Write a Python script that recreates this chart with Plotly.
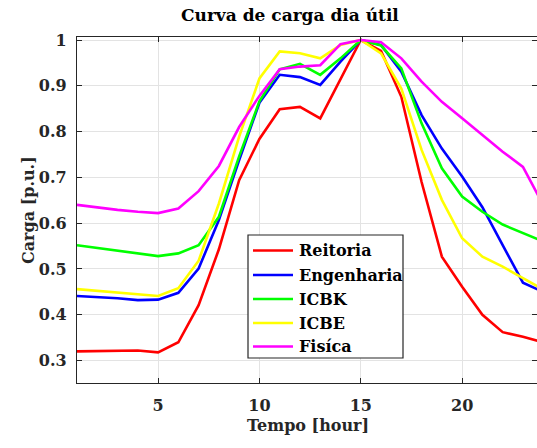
import plotly.graph_objects as go

# Hour of day
hours = list(range(1, 25))

# Normalised daily load curves [p.u.]
reitoria = [0.320, 0.321, 0.322, 0.322, 0.318, 0.340, 0.421, 0.543, 0.694, 0.784, 0.849, 0.854,
            0.829, 0.915, 1.000, 0.976, 0.876, 0.690, 0.527, 0.461, 0.400, 0.362, 0.352, 0.340]
engenharia = [0.441, 0.439, 0.436, 0.432, 0.433, 0.448, 0.501, 0.607, 0.738, 0.863, 0.924, 0.919,
              0.902, 0.953, 1.000, 0.989, 0.931, 0.836, 0.763, 0.702, 0.635, 0.552, 0.470, 0.450]
icbk = [0.552, 0.546, 0.540, 0.534, 0.528, 0.534, 0.552, 0.614, 0.746, 0.866, 0.936, 0.948,
        0.924, 0.960, 1.000, 0.988, 0.938, 0.818, 0.720, 0.658, 0.625, 0.597, 0.578, 0.560]
icbe = [0.456, 0.452, 0.448, 0.445, 0.441, 0.458, 0.518, 0.643, 0.789, 0.916, 0.975, 0.971,
        0.960, 0.989, 1.000, 0.971, 0.894, 0.760, 0.651, 0.567, 0.527, 0.505, 0.481, 0.455]
fisica = [0.640, 0.634, 0.629, 0.625, 0.622, 0.632, 0.670, 0.725, 0.810, 0.878, 0.936, 0.942,
          0.945, 0.991, 1.000, 0.995, 0.960, 0.909, 0.865, 0.829, 0.793, 0.756, 0.723, 0.640]

series_names = ["Reitoria", "Engenharia", "ICBK", "ICBE", "Fisíca"]
series_values = [reitoria, engenharia, icbk, icbe, fisica]
series_colors = ["#ff0000", "#0000ff", "#00ff00", "#ffff00", "#ff00ff"]

x_ticks = [5, 10, 15, 20]
y_ticks = [0.3, 0.4, 0.5, 0.6, 0.7, 0.8, 0.9, 1.0]
y_tick_text = ["0.3", "0.4", "0.5", "0.6", "0.7", "0.8", "0.9", "1"]

FONT = "DejaVu Serif"
FS = 16
W, H = 537, 448
L, R, T, B = 77, 0, 37, 65
PW, PH = W - L - R, H - T - B


def px_x(px):
    """Horizontal pixel position -> paper fraction."""
    return (px - L) / PW


def px_y(py):
    """Vertical pixel position (from top) -> paper fraction."""
    return (H - B - py) / PH


fig = go.Figure()
for name, vals, col in zip(series_names, series_values, series_colors):
    fig.add_trace(go.Scatter(x=hours, y=vals, mode="lines", name=name,
                             line=dict(color=col, width=2.6), showlegend=False))

axis_common = dict(
    showline=True, linecolor="#262626", linewidth=1.2, mirror="ticks",
    ticks="inside", ticklen=5, tickwidth=1, tickcolor="#262626",
    showgrid=True, gridcolor="#e3e3e3", gridwidth=1, zeroline=False,
    tickfont=dict(family=FONT, size=FS, color="#262626", weight="bold"),
)

fig.update_layout(
    width=W, height=H,
    margin=dict(l=L, r=R, t=T, b=B),
    paper_bgcolor="white", plot_bgcolor="white",
    xaxis=dict(range=[1, 1 + PW / 20.27], tickvals=x_ticks, ticklabelstandoff=8, **axis_common),
    yaxis=dict(range=[0.251, 1.0066], tickvals=y_ticks, ticktext=y_tick_text,
               ticklabelstandoff=6, **axis_common),
)

# Legend box with line samples and labels
lg_left, lg_top, lg_right, lg_bottom = 248, 235, 403, 358
fig.add_shape(type="rect", xref="paper", yref="paper",
              x0=px_x(lg_left), x1=px_x(lg_right), y0=px_y(lg_bottom), y1=px_y(lg_top),
              line=dict(color="#262626", width=1.2), fillcolor="white", layer="above")
row_y = [250.5, 275, 299, 323, 346.5]
for name, col, ry in zip(series_names, series_colors, row_y):
    fig.add_shape(type="line", xref="paper", yref="paper",
                  x0=px_x(253), x1=px_x(293), y0=px_y(ry), y1=px_y(ry),
                  line=dict(color=col, width=2.6), layer="above")
    fig.add_annotation(text=name, xref="paper", yref="paper",
                       x=px_x(297), y=px_y(ry), xanchor="left", yanchor="middle",
                       showarrow=False,
                       font=dict(family=FONT, size=FS, color="black", weight="bold"))

# Titles
fig.add_annotation(text="Curva de carga dia útil", xref="paper", yref="paper",
                   x=px_x(290), y=px_y(15), xanchor="center", yanchor="middle",
                   showarrow=False,
                   font=dict(family=FONT, size=17, color="black", weight="bold"))
fig.add_annotation(text="Tempo [hour]", xref="paper", yref="paper",
                   x=px_x(307.5), y=px_y(426), xanchor="center", yanchor="middle",
                   showarrow=False,
                   font=dict(family=FONT, size=FS, color="#262626", weight="bold"))
fig.add_annotation(text="Carga [p.u.]", xref="paper", yref="paper",
                   x=px_x(28), y=0.5, textangle=-90, xanchor="center", yanchor="middle",
                   showarrow=False,
                   font=dict(family=FONT, size=FS, color="#262626", weight="bold"))

fig.write_html("out.html")
